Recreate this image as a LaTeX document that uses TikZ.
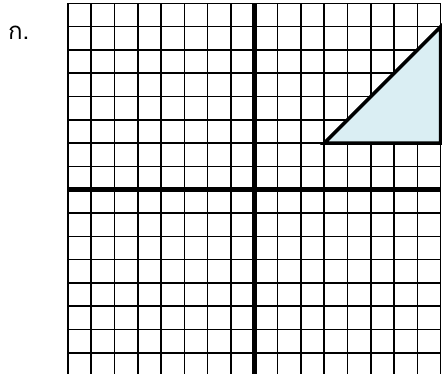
\documentclass[tikz,border=0pt]{standalone}
\usepackage{fontspec}
\newfontfamily\thaifont[Script=Thai]{Loma}
\definecolor{shade}{HTML}{DAEEF3}
\tikzset{
  gridl/.style={draw=black, line width=1.5pt},
  axis/.style={draw=black, line width=4.6pt},
  tri/.style={draw=black, fill=shade, line width=3.5pt},
  lab/.style={font=\thaifont\fontsize{24}{28}\selectfont, inner sep=0pt},
}
\begin{document}
\begin{tikzpicture}[x=23.3pt,y=23.3pt]
  \useasboundingbox (-10.914,-7.867) rectangle (8.056,8.142);
  \clip (-10.914,-7.867) rectangle (8.056,8.142);
  \foreach \k in {-8,...,8} {
    \draw[gridl] (\k,-8) -- (\k,8);
    \draw[gridl] (-8,\k) -- (8,\k);
  }
  \draw[axis] (-8,0) -- (8,0) (0,-8) -- (0,8);
  \coordinate (A) at (3,2);
  \coordinate (B) at (8,7);
  \coordinate (C) at (8,2);
  \draw[tri] (A) -- (B) -- (C) -- cycle;
  \node[lab, anchor=base west] (lbl) at (-10.571,6.468) {ก.};
\end{tikzpicture}
\end{document}
